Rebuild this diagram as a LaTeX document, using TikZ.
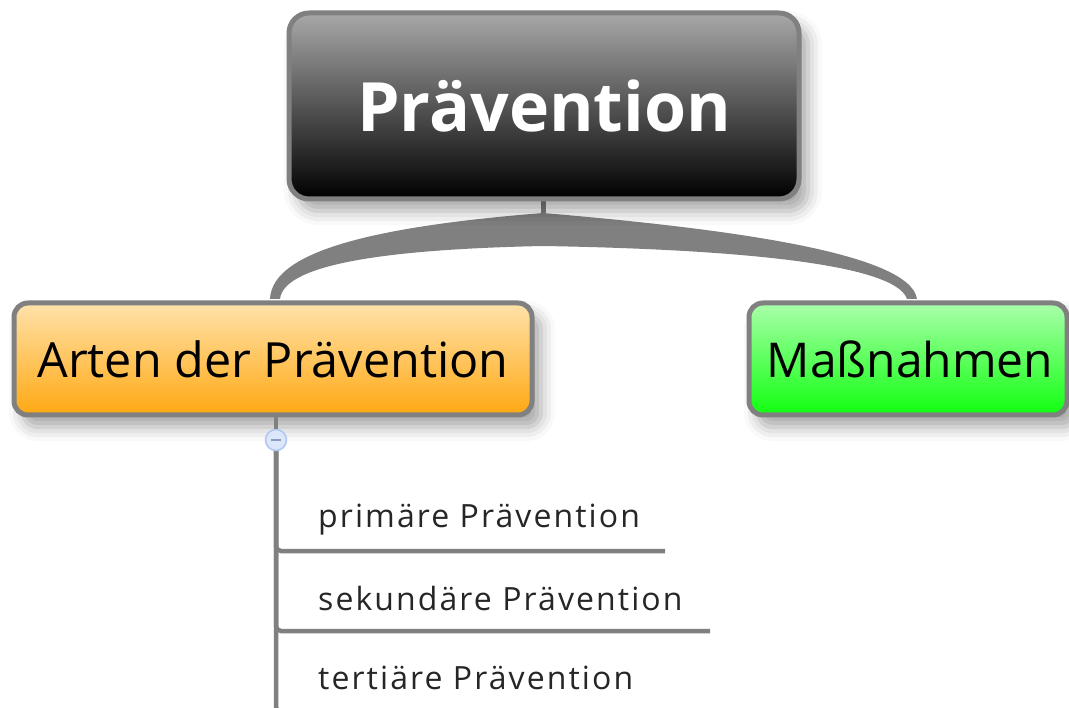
\documentclass[tikz,border=0pt]{standalone}
\usepackage{fontspec}
\setmainfont{Open Sans}
\newfontfamily\listfont[LetterSpace=6.5]{Open Sans}
\usetikzlibrary{shadows.blur}
\definecolor{linegray}{HTML}{808080}
\definecolor{orangetop}{HTML}{FFE2AA}
\definecolor{orangebot}{HTML}{FFA812}
\definecolor{greentop}{HTML}{AAFFAA}
\definecolor{greenbot}{HTML}{10FF10}
\definecolor{darktop}{HTML}{A8A8A8}
\definecolor{circfill}{HTML}{DCE7FB}
\definecolor{circdraw}{HTML}{AEC6F2}
\definecolor{minuscol}{HTML}{8A9CC0}
\tikzset{
  topicbox/.style={draw=linegray, line width=5pt, rounded corners=14pt, inner sep=0pt,
    blur shadow={shadow xshift=9pt, shadow yshift=-12pt, shadow blur radius=14pt, shadow opacity=35}},
  listtext/.style={anchor=base west, inner sep=0pt, font=\listfont\fontsize{32}{36}\selectfont, text=black!85},
  conn/.style={draw=linegray, line width=4.5pt},
}
\begin{document}
\begin{tikzpicture}[x=1pt,y=-1pt]
\useasboundingbox (0,0) rectangle (1069,708);
\clip (0,0) rectangle (1069,708);
% fork connector
\fill[linegray] (541,200) rectangle (546,222);
\fill[linegray] (543,213) .. controls (380,226) and (272,250) .. (270,299)
  -- (280,299) .. controls (284,262) and (400,249) .. (543,246)
  .. controls (720,249) and (895,262) .. (907,299)
  -- (917,299) .. controls (910,252) and (720,228) .. (543,213) -- cycle;
% main topic
\node[topicbox, rounded corners=20pt, minimum width=510pt, minimum height=186pt,
  top color=darktop, bottom color=black, text=white,
  font=\fontsize{68}{74}\selectfont\bfseries] (main) at (544,106) {Prävention};
% subtopics
\node[topicbox, minimum width=518pt, minimum height=112pt,
  top color=orangetop, bottom color=orangebot, text=black,
  font=\fontsize{48.5}{54}\selectfont] (arten) at (273,359) {Arten der Prävention};
\node[topicbox, minimum width=318pt, minimum height=112pt,
  top color=greentop, bottom color=greenbot, text=black,
  font=\fontsize{48}{54}\selectfont] (mass) at (908,359) {\hspace*{4pt}Maßnahmen};
% list items
\node[listtext] (p1) at (318,527) {primäre Prävention};
\node[listtext] (p2) at (318,610) {sekundäre Prävention};
\node[listtext] (p3) at (318,689) {tertiäre Prävention};
\coordinate (e1) at (665,551);
\coordinate (e2) at (710,631);
\coordinate (e3) at (720,712);
% trunk and branches
\draw[conn] (arten.south -| 276,0) -- (276,430);
\draw[conn, rounded corners=5pt] (276,450) |- (e1);
\draw[conn, rounded corners=5pt] (276,450) |- (e2);
\draw[conn, rounded corners=5pt] (276,450) |- (e3);
% collapse button
\node[circle, draw=circdraw, fill=circfill, line width=1.5pt, minimum size=21pt, inner sep=0pt] (btn) at (276,440) {};
\draw[minuscol, line width=2pt] ([xshift=-5pt]btn.center) -- ([xshift=5pt]btn.center);
\end{tikzpicture}
\end{document}
